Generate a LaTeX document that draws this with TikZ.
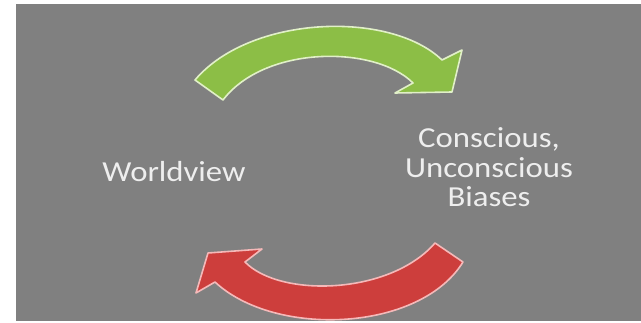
\documentclass[tikz,border=0pt]{standalone}
\usepackage{fontspec}
\setmainfont{Carlito}
\definecolor{bggrey}{RGB}{128,128,128}
\definecolor{arrgreen}{RGB}{140,190,70}
\definecolor{arredge}{RGB}{225,240,200}
\definecolor{arrred}{RGB}{205,62,60}
\definecolor{rededge}{RGB}{245,185,185}
\definecolor{txtcol}{RGB}{238,238,238}
\tikzset{
  lbl/.style={text=txtcol, font=\fontsize{29}{29.5}\selectfont, align=center, inner sep=0pt, xscale=1.13},
  greenarrow/.style={fill=arrgreen, draw=arredge, line width=1.6pt, line join=round},
  redarrow/.style={fill=arrred, draw=rededge, line width=1.6pt, line join=round}
}
\begin{document}
\begin{tikzpicture}[x=1pt,y=-1pt]
\useasboundingbox (0,0) rectangle (641,323);
\fill[white] (0,0) rectangle (641,323);
\fill[bggrey] (16,4) rectangle (641,321);
% green arrow (top)
\draw[greenarrow] (195,80) .. controls (250,15) and (390,10) .. (442,60)
  -- (462,50) -- (452,92) -- (395,93) -- (413,83)
  .. controls (375,45) and (265,45) .. (223,100) -- cycle;
% red arrow (bottom)
\draw[redarrow] (463,262) .. controls (420,332) and (275,338) .. (215,282)
  -- (196,293) -- (208,253) -- (262,249) -- (245,262)
  .. controls (280,298) and (390,295) .. (435,243) -- cycle;
\node[lbl, anchor=base] (world) at (174,182) {Worldview};
\node[lbl, anchor=base] (bias) at (489,207) {Conscious,\\Unconscious\\Biases};
\end{tikzpicture}
\end{document}
